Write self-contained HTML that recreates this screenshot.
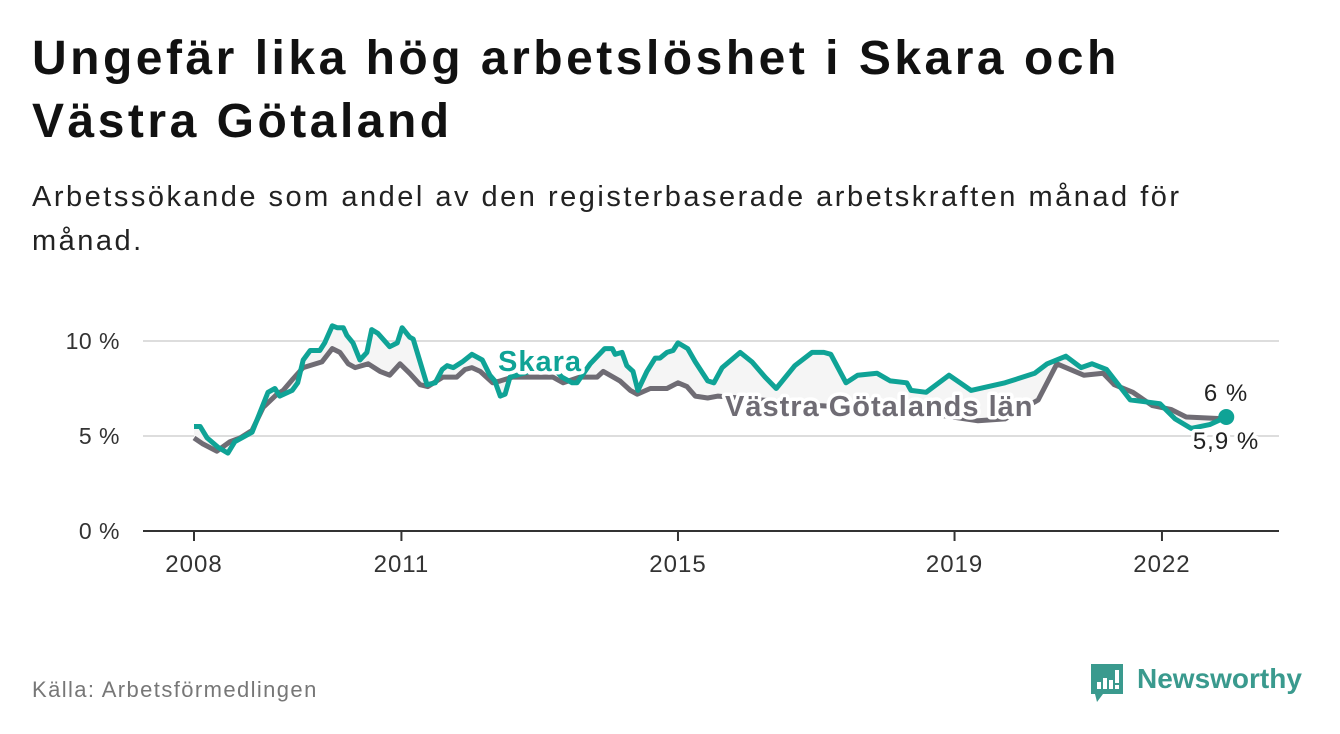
<!DOCTYPE html>
<html><head><meta charset="utf-8"><style>
body{margin:0;width:1340px;height:734px;background:#fff;font-family:"Liberation Sans",sans-serif;overflow:hidden;position:relative}
h1{position:absolute;left:32px;top:27px;margin:0;font-size:48px;letter-spacing:3.5px;line-height:63px;font-weight:bold;color:#111;white-space:nowrap}
.sub{position:absolute;left:32px;top:175px;font-size:29px;letter-spacing:2.5px;line-height:44px;color:#222;white-space:nowrap}
.src{position:absolute;left:32px;top:677px;font-size:22px;letter-spacing:1.4px;color:#777;white-space:nowrap}
</style></head><body>
<h1>Ungefär lika hög arbetslöshet i Skara och<br>Västra Götaland</h1>
<div class="sub">Arbetssökande som andel av den registerbaserade arbetskraften månad för<br>månad.</div>
<svg id="chart" width="1340" height="734" style="position:absolute;left:0;top:0" font-family="Liberation Sans, sans-serif"></svg>
<div class="src">Källa: Arbetsförmedlingen</div>
<div style="position:absolute;left:1089px;top:662px;height:44px">
<svg width="40" height="44" style="position:absolute;left:0;top:0"><path d="M2 2h32v30H14l-6 8-2-8H2z" fill="#3a9a8e"/><rect x="8" y="20" width="4" height="7" fill="#fff"/><rect x="14" y="16" width="4" height="11" fill="#fff"/><rect x="20" y="18" width="4" height="9" fill="#fff"/><rect x="26" y="8" width="4" height="13" fill="#fff"/><rect x="26" y="23" width="4" height="4" fill="#fff"/></svg>
<span style="position:absolute;left:48px;top:1px;font-size:28px;color:#3a9a8e;font-weight:bold;white-space:nowrap">Newsworthy</span></div>
<script>
const skaraYears=[2008.0,2008.09,2008.19,2008.35,2008.49,2008.59,2008.69,2008.84,2008.95,2009.07,2009.17,2009.24,2009.42,2009.5,2009.58,2009.68,2009.82,2009.89,2010.0,2010.07,2010.16,2010.21,2010.3,2010.4,2010.5,2010.57,2010.66,2010.83,2010.94,2011.01,2011.12,2011.17,2011.37,2011.49,2011.59,2011.66,2011.75,2011.88,2012.02,2012.17,2012.28,2012.35,2012.43,2012.5,2012.57,2012.86,2013.22,2013.32,2013.47,2013.54,2013.73,2013.94,2014.05,2014.09,2014.19,2014.26,2014.35,2014.42,2014.55,2014.67,2014.74,2014.84,2014.93,2015.0,2015.14,2015.25,2015.43,2015.52,2015.64,2015.9,2016.07,2016.26,2016.42,2016.69,2016.94,2017.11,2017.21,2017.43,2017.6,2017.88,2018.07,2018.31,2018.37,2018.59,2018.92,2019.08,2019.24,2019.73,2020.16,2020.34,2020.61,2020.83,2020.99,2021.2,2021.54,2021.97,2022.19,2022.42,2022.69,2022.93];
const skaraValues=[5.5,5.5,4.9,4.4,4.1,4.7,4.9,5.2,6.2,7.3,7.5,7.1,7.4,7.8,9.0,9.5,9.5,9.9,10.8,10.7,10.7,10.3,9.9,9.0,9.4,10.6,10.4,9.7,9.9,10.7,10.2,10.1,7.7,7.8,8.5,8.7,8.6,8.9,9.3,9.0,8.2,7.9,7.1,7.2,8.1,8.4,8.5,8.1,7.8,7.8,8.8,9.6,9.6,9.3,9.4,8.7,8.4,7.4,8.4,9.1,9.1,9.4,9.5,9.9,9.6,8.9,7.9,7.8,8.6,9.4,8.9,8.1,7.5,8.7,9.4,9.4,9.3,7.8,8.2,8.3,7.9,7.8,7.4,7.3,8.2,7.8,7.4,7.8,8.3,8.8,9.2,8.6,8.8,8.5,6.9,6.7,5.9,5.4,5.6,6.0];
const vgYears=[2008.0,2008.12,2008.33,2008.52,2008.67,2008.84,2009.0,2009.2,2009.29,2009.43,2009.58,2009.85,2010.0,2010.11,2010.23,2010.33,2010.52,2010.69,2010.83,2010.98,2011.12,2011.27,2011.38,2011.6,2011.8,2011.92,2012.02,2012.14,2012.32,2012.43,2012.61,2012.86,2013.19,2013.34,2013.58,2013.83,2013.92,2014.16,2014.31,2014.41,2014.6,2014.84,2015.0,2015.13,2015.25,2015.43,2015.58,2016.19,2017.05,2017.92,2018.79,2019.34,2019.73,2020.21,2020.48,2020.87,2021.15,2021.31,2021.58,2021.86,2022.13,2022.35,2022.93];
const vgValues=[4.9,4.6,4.2,4.7,4.9,5.3,6.5,7.2,7.4,8.0,8.6,8.9,9.6,9.4,8.8,8.6,8.8,8.4,8.2,8.8,8.3,7.7,7.6,8.1,8.1,8.5,8.6,8.4,7.8,7.9,8.1,8.1,8.1,7.8,8.1,8.1,8.4,7.9,7.4,7.2,7.5,7.5,7.8,7.6,7.1,7.0,7.1,6.9,6.6,6.4,6.1,5.8,5.9,6.9,8.8,8.2,8.3,7.7,7.3,6.6,6.4,6.0,5.9];
const yTicks=[0,5,10];
const xTicks=[2008,2011,2015,2019,2022];
const NS="http://www.w3.org/2000/svg";
const svg=document.getElementById('chart');
const X=y=>194+(y-2008)*69.14;
const Y=v=>531-v*19;
function mk(t,a){const e=document.createElementNS(NS,t);for(const k in a)e.setAttribute(k,a[k]);svg.appendChild(e);return e;}
yTicks.forEach(t=>{
 const g=mk('line',{x1:143,x2:1279,y1:Y(t),y2:Y(t),stroke:t===0?'#333':'#ddd','stroke-width':2});
 
 
 const l=mk('text',{x:120,y:Y(t)+8,'text-anchor':'end','font-size':23,'letter-spacing':0.5,fill:'#333'});l.textContent=t+' %';
 
 
});
xTicks.forEach(t=>{
 const k=mk('line',{x1:X(t),x2:X(t),y1:531,y2:541,stroke:'#333','stroke-width':2});
 
 
 const l=mk('text',{x:X(t),y:572,'text-anchor':'middle','font-size':24,'letter-spacing':1,fill:'#333'});l.textContent=t;
 
 
});
const sp=skaraYears.map((y,i)=>X(y).toFixed(1)+','+Y(skaraValues[i]).toFixed(1));
const vp=vgYears.map((y,i)=>X(y).toFixed(1)+','+Y(vgValues[i]).toFixed(1));
const area=mk('polygon',{points:sp.concat(vp.slice().reverse()).join(' '),fill:'#f5f5f5'});


const vl=mk('polyline',{points:vp.join(' '),fill:'none',stroke:'#6f6c74','stroke-width':5,'stroke-linejoin':'round'});


const sl=mk('polyline',{points:sp.join(' '),fill:'none',stroke:'#0fa396','stroke-width':5,'stroke-linejoin':'round'});


const lastS=skaraValues[skaraValues.length-1], lastV=vgValues[vgValues.length-1];
const dot=mk('circle',{cx:X(skaraYears[skaraYears.length-1]),cy:Y(lastS),r:8,fill:'#0fa396'});


function lab(txt,x,y,size,fill,weight,anchor,ls,name){
 const t=mk('text',{x:x,y:y,'font-size':size,fill:fill,'font-weight':weight,'text-anchor':anchor,'letter-spacing':ls,stroke:'#fff','stroke-width':7,'paint-order':'stroke','stroke-linejoin':'round'});
 t.textContent=txt;
 
 
}
lab('Skara',498,371,29,'#0fa396','bold','start',1,'skara-label');
lab('Västra Götalands län',725,416,29,'#6f6c74','bold','start',1,'vastra-gotaland-label');
lab(String(lastS).replace('.',',')+' %',1226,401,24,'#222','normal','middle',1,'skara-end-value');
lab(String(lastV).replace('.',',')+' %',1226,449,24,'#222','normal','middle',1,'vastra-gotaland-end-value');
</script>
</body></html>
